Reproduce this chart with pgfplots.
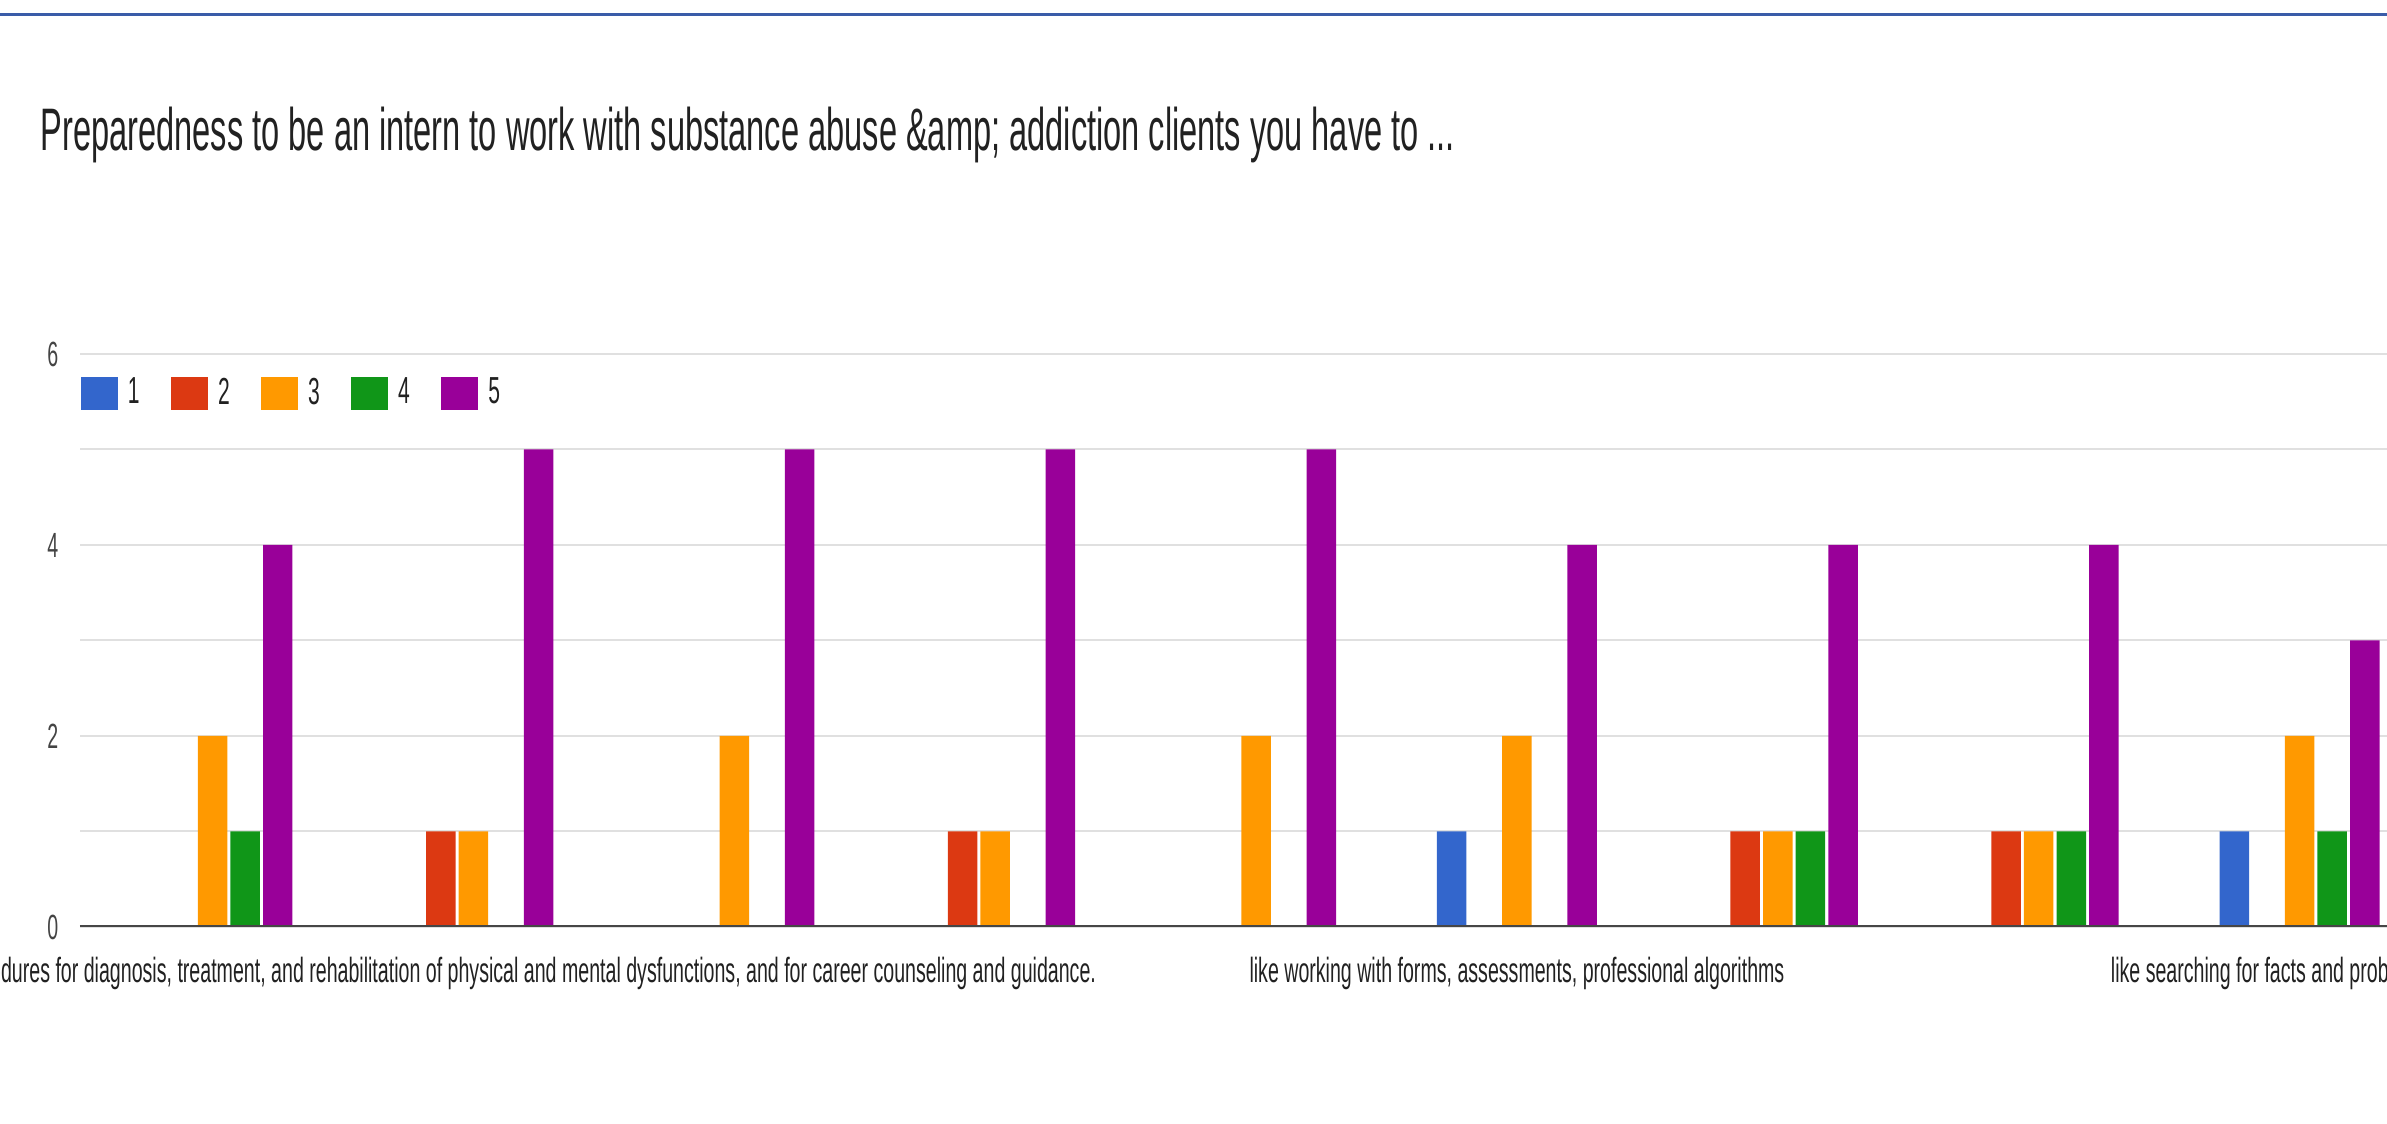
\documentclass[border=0pt]{standalone}
\usepackage{fontspec}
\setmainfont{Liberation Sans}
\newfontfamily\titlefont[FakeStretch=0.543]{Liberation Sans}
\newfontfamily\labfont[FakeStretch=0.56]{Liberation Sans}
\usepackage{pgfplots}
\pgfplotsset{compat=1.18}
\usetikzlibrary{calc}
\definecolor{c1}{HTML}{3366CC}
\definecolor{c2}{HTML}{DC3912}
\definecolor{c3}{HTML}{FF9900}
\definecolor{c4}{HTML}{109618}
\definecolor{c5}{HTML}{990099}
\definecolor{topblue}{RGB}{58,92,168}
\definecolor{gridgray}{RGB}{224,224,224}
\definecolor{basegray}{RGB}{70,70,70}
\definecolor{txt}{RGB}{33,33,33}
\definecolor{ticktxt}{RGB}{68,68,68}
\begin{document}
\begin{tikzpicture}
\begin{axis}[name=ax, scale only axis, width=692.1pt, height=171.9pt,
  xmin=-0.508, xmax=8.335, ymin=0, ymax=6,
  ybar, bar width=0.113,
  axis line style={draw=none}, major tick length=0pt, minor tick length=0pt,
  ytick={0,1,2,3,4,5,6}, yticklabels={0,,2,,4,,6},
  xtick={1,5,8},
  xticklabels={{\makebox[373.6pt][r]{know the procedures for diagnosis, treatment, and rehabilitation of physical and mental dysfunctions, and for career counseling and guidance.}},
               {like working with forms, assessments, professional algorithms},
               {\makebox[113.2pt][l]{like searching for facts and problem solving}}},
  ymajorgrids, grid style={line width=0.6pt, gridgray},
  yticklabel style={font=\labfont\fontsize{10.5}{12}\selectfont, text=ticktxt, inner sep=0pt, xshift=-6.3pt},
  xticklabel style={font=\labfont\fontsize{10.5}{12}\selectfont, text=txt, anchor=base, yshift=-16.8pt, inner sep=0pt},
  legend columns=-1,
  legend image code/.code={\fill[#1] (0pt,-4.95pt) rectangle (11.1pt,4.95pt);},
  legend style={at={(0,1)}, anchor=west, xshift=0.3pt, yshift=-11.85pt, draw=none, fill=none,
    inner sep=0pt, outer sep=0pt, font=\labfont\fontsize{11.3}{13}\selectfont, text=txt,
    nodes={inner sep=0pt},
    /tikz/every odd column/.append style={column sep=3pt},
    /tikz/every even column/.append style={column sep=9.4pt}},
]
\addplot[fill=c1, draw=none, bar shift=-0.25] coordinates {(5,1) (8,1)};
\addplot[fill=c2, draw=none, bar shift=-0.125] coordinates {(1,1) (3,1) (6,1) (7,1)};
\addplot[fill=c3, draw=none, bar shift=0] coordinates {(0,2) (1,1) (2,2) (3,1) (4,2) (5,2) (6,1) (7,1) (8,2)};
\addplot[fill=c4, draw=none, bar shift=0.125] coordinates {(0,1) (6,1) (7,1) (8,1)};
\addplot[fill=c5, draw=none, bar shift=0.25] coordinates {(0,4) (1,5) (2,5) (3,5) (4,5) (5,4) (6,4) (7,4) (8,3)};
\legend{1,2,3,4,5}
\draw[line width=0.9pt, basegray] (rel axis cs:0,0) -- (rel axis cs:1,0);
\end{axis}
\node[anchor=base west, inner sep=0pt, font=\titlefont\fontsize{18}{20}\selectfont, text=txt]
  at ($(ax.north west)+(-12pt,60.9pt)$) {Preparedness to be an intern to work with substance abuse \&amp; addiction clients you have to ...};
\draw[line width=0.9pt, topblue] ($(ax.north west)+(-24pt,101.7pt)$) -- ($(ax.north east)+(0pt,101.7pt)$);
\pgfresetboundingbox
\path[use as bounding box] ($(ax.south west)+(-24pt,-59.1pt)$) rectangle ($(ax.north east)+(0pt,106.2pt)$);
\end{tikzpicture}
\end{document}
